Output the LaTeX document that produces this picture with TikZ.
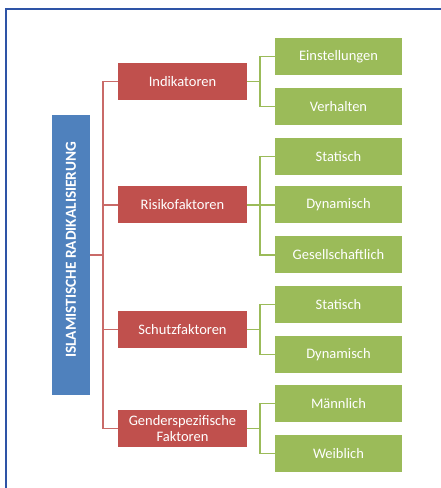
\documentclass[tikz,border=0pt]{standalone}
\usepackage{fontspec}
\setmainfont{Carlito}
\usepackage{tikz}
\usepackage{xcolor}
\definecolor{rootblue}{RGB}{79,129,189}
\definecolor{framblue}{RGB}{46,84,166}
\definecolor{catred}{RGB}{192,80,77}
\definecolor{leafgreen}{RGB}{155,187,89}

\begin{document}
\begin{tikzpicture}[x=1pt, y=1pt,
    catbox/.style={fill=catred, text=white, minimum width=129pt, minimum height=37pt,
        inner sep=1pt, align=center, font=\fontsize{14.5}{16.5}\selectfont},
    leafbox/.style={fill=leafgreen, text=white, minimum width=127pt, minimum height=37pt,
        inner sep=1pt, font=\fontsize{14.5}{16.5}\selectfont},
    redline/.style={draw=catred!85, line width=1.3pt},
    greenline/.style={draw=leafgreen, line width=1.3pt}]
      \useasboundingbox (0,0) rectangle (440,488);

      % Frame
      \draw[framblue, line width=2.5pt] (6,-2) -- (6,479) -- (442,479);

      % Root
      \node[fill=rootblue, minimum width=38pt, minimum height=280pt, inner sep=0pt] (root) at (71,233)
          {\rotatebox{90}{\color{white}\bfseries\fontsize{15.3}{17}\selectfont\hspace*{10pt}ISLAMISTISCHE RADIKALISIERUNG}};

      % Categories
      \node[catbox] (ind) at (182.5,406.5) {Indikatoren};
      \node[catbox] (risk) at (182.5,283) {Risikofaktoren};
      \node[catbox] (schutz) at (182.5,158.5) {Schutzfaktoren};
      \node[catbox] (gender) at (182.5,59.5) {Genderspezifische\\Faktoren};

      % Leaves
      \node[leafbox] (einst) at (338.5,431.5) {Einstellungen};
      \node[leafbox] (verh) at (338.5,381.5) {Verhalten};
      \node[leafbox] (rstat) at (338.5,331.5) {Statisch};
      \node[leafbox] (rdyn) at (338.5,283) {Dynamisch};
      \node[leafbox] (rges) at (338.5,233) {Gesellschaftlich};
      \node[leafbox] (sstat) at (338.5,183.5) {Statisch};
      \node[leafbox] (sdyn) at (338.5,133.5) {Dynamisch};
      \node[leafbox] (gmaen) at (338.5,84.5) {M\"annlich};
      \node[leafbox] (gweib) at (338.5,34.5) {Weiblich};

      % Connectors
      \coordinate (trunk) at (103,0);
      \coordinate (brk) at (260,0);
      \foreach \c in {ind,risk,schutz,gender}
        \draw[redline] (root.east) -- (root.east -| trunk) |- (\c.west);
      \foreach \p/\c in {ind/einst, ind/verh, risk/rstat, risk/rdyn, risk/rges,
                         schutz/sstat, schutz/sdyn, gender/gmaen, gender/gweib}
        \draw[greenline] (\p.east) -- (\p.east -| brk) |- (\c.west);
\end{tikzpicture}
\end{document}
